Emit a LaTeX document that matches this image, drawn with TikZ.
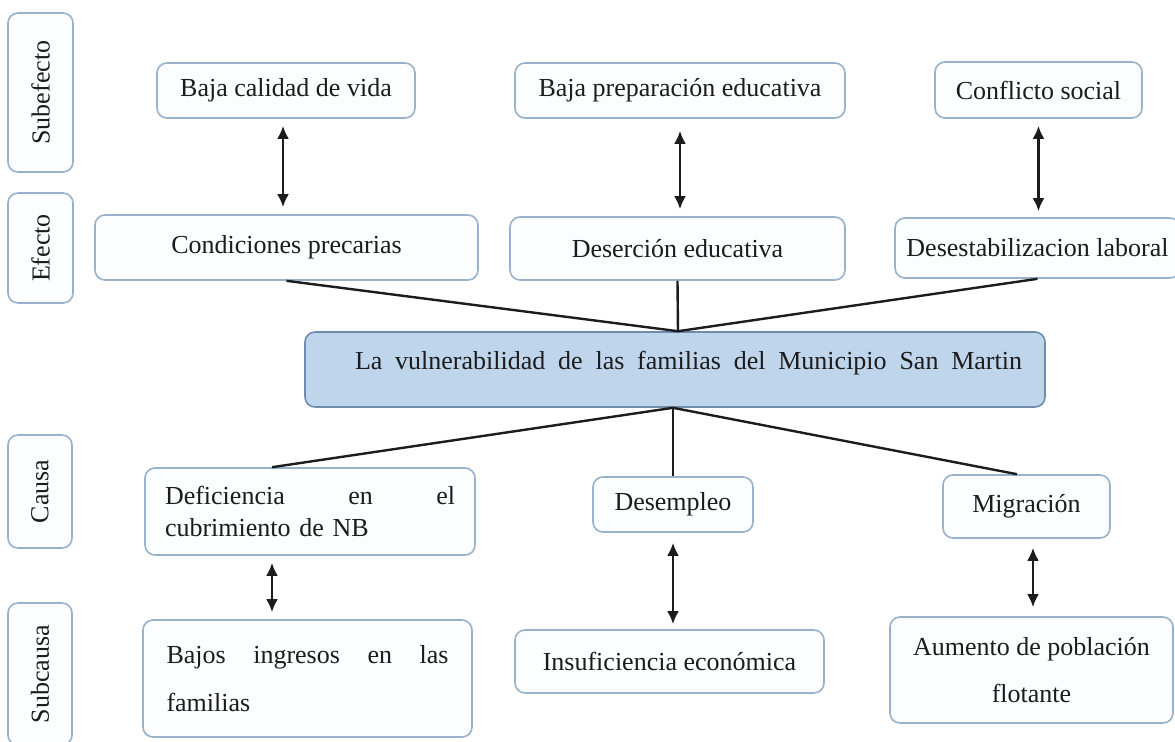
\documentclass[tikz,border=0pt]{standalone}
\usepackage{fontspec}
\setmainfont{Liberation Serif}
\usetikzlibrary{arrows.meta}
\definecolor{boxline}{RGB}{152,178,204}
\definecolor{boxfill}{RGB}{252,253,255}
\definecolor{probfill}{RGB}{190,213,236}
\definecolor{probline}{RGB}{112,140,172}
\definecolor{ink}{RGB}{28,28,28}
\tikzset{
  box/.style={draw=boxline, fill=boxfill, line width=0.8pt, rounded corners=5pt,
    inner sep=2pt, text=ink, font=\fontsize{13}{15.6}\selectfont},
  probbox/.style={box, draw=probline, fill=probfill},
  lblbox/.style={box, rotate=90},
  link/.style={line width=1.2pt, ink},
  twoway/.style={line width=1.4pt, ink, {Latex[length=6.5pt,width=6pt]}-{Latex[length=6.5pt,width=6pt]}}
}

\begin{document}
\begin{tikzpicture}[x=0.5pt, y=-0.5pt]
\useasboundingbox (0,0) rectangle (1175,741);
% level labels
\node[lblbox, minimum width=79.5pt, minimum height=32.5pt] (lSubefecto) at (40.5,92.5) {Subefecto};
\node[lblbox, minimum width=55pt, minimum height=32.5pt] (lEfecto) at (40.5,248) {Efecto};
\node[lblbox, minimum width=56.5pt, minimum height=32pt] (lCausa) at (40,491.5) {Causa};
\node[lblbox, minimum width=71pt, minimum height=32pt] (lSubcausa) at (40,674) {Subcausa};
% subefectos
\node[box, minimum width=129pt, minimum height=27.5pt] (subA) at (286,90.5) {Baja calidad de vida};
\node[box, minimum width=165pt, minimum height=27.5pt] (subB) at (680,90.5) {Baja preparación educativa};
\node[box, minimum width=103.5pt, minimum height=28pt] (subC) at (1038.5,90) {Conflicto social};
% efectos
\node[box, minimum width=191.5pt, minimum height=32.5pt] (efA) at (286.5,247.5) {Condiciones precarias};
\node[box, minimum width=167.5pt, minimum height=31.5pt] (efB) at (677.5,248.5) {Deserción educativa};
\node[box, minimum width=142.5pt, minimum height=30pt] (efC) at (1037.5,248) {Desestabilizacion laboral};
% problema central
\node[probbox, minimum width=370pt, minimum height=37.5pt, text depth=9pt] (prob) at (675,369.5)
  {\hspace*{13.5pt}\makebox[333.5pt][s]{La\hfill vulnerabilidad\hfill de\hfill las\hfill familias\hfill del\hfill Municipio\hfill San\hfill Martin}};
\coordinate (top) at ([xshift=1.5pt]prob.north);
\coordinate (bot) at ([xshift=-1pt]prob.south);
% causas
\node[box, minimum width=165pt, minimum height=43.5pt, text width=145pt, align=left] (causeA) at (310,511.5)
  {\makebox[145pt][s]{Deficiencia\hfill en\hfill el}\\cubrimiento de NB};
\node[box, minimum width=80pt, minimum height=27.5pt] (causeB) at (673,504.5) {Desempleo};
\node[box, minimum width=83.5pt, minimum height=31.5pt] (causeC) at (1026.5,506.5) {Migración};
% subcausas
\node[box, minimum width=164.5pt, minimum height=58.5pt, text width=141pt, align=left] (subcA) at (307.5,678.5)
  {\makebox[141pt][s]{Bajos\hfill ingresos\hfill en\hfill las}\\[8pt]familias};
\node[box, minimum width=154.5pt, minimum height=31.5pt] (subcB) at (669.5,661.5) {Insuficiencia económica};
\node[box, minimum width=141.5pt, minimum height=53pt, align=center] (subcC) at (1031.5,670)
  {Aumento de población\\[8pt]flotante};
% relaciones efecto - subefecto
\draw[twoway, shorten <=3.5pt, shorten >=3.5pt] ([xshift=-1.5pt]subA.south) -- ([xshift=-1.5pt]subA.south |- efA.north);
\draw[twoway, shorten <=6pt, shorten >=3.5pt] (subB.south) -- (subB.south |- efB.north);
\draw[twoway, shorten <=3.5pt, shorten >=3pt] (subC.south) -- (subC.south |- efC.north);
% ramas del problema
\draw[link] (efA.south) -- (top);
\draw[link] (efB.south) -- (top);
\draw[link] (efC.south) -- (top);
\draw[link] (bot) -- ([xshift=-19pt]causeA.north);
\draw[link] (bot) -- (causeB.north);
\draw[link] (bot) -- ([xshift=-4.75pt]causeC.north);
% relaciones causa - subcausa
\draw[twoway, shorten <=3.5pt, shorten >=3.5pt] ([xshift=-19pt]causeA.south) -- ([xshift=-19pt]causeA.south |- subcA.north);
\draw[twoway, shorten <=5pt, shorten >=2.5pt] (causeB.south) -- (causeB.south |- subcB.north);
\draw[twoway, shorten <=4.5pt, shorten >=4.5pt] ([xshift=3.25pt]causeC.south) -- ([xshift=3.25pt]causeC.south |- subcC.north);
\end{tikzpicture}
\end{document}
